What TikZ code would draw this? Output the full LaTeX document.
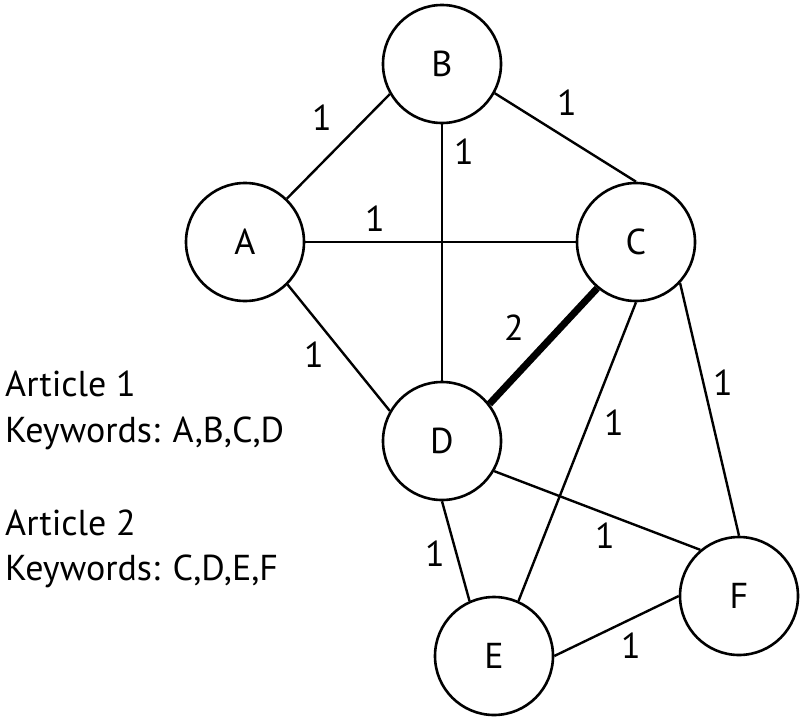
\documentclass[tikz,border=0pt]{standalone}
\usepackage{fontspec}
\setmainfont{PT Sans}
\begin{document}
\begin{tikzpicture}[x=1pt,y=-1pt,
  vert/.style={circle,draw,line width=2.6pt,minimum size=118pt,inner sep=0pt,font=\fontsize{36}{40}\selectfont},
  edge/.style={line width=2.4pt},
  heavy/.style={line width=7pt},
  wt/.style={inner sep=0pt,font=\fontsize{36}{40}\selectfont},
  txt/.style={anchor=base west,inner sep=0pt,font=\fontsize{36}{40}\selectfont}]
\useasboundingbox (0,0) rectangle (800,720);
\node[vert] (B) at (442,64) {B};
\node[vert] (A) at (245,242) {A};
\node[vert] (C) at (636,242) {C};
\node[vert] (D) at (442,441) {D};
\node[vert] (E) at (494,656) {E};
\node[vert] (F) at (739,596) {F};
\draw[edge] (A.46) -- (B.210);
\draw[edge] (B.-29) -- (C.north);
\draw[edge] (B.south) -- (D.north);
\draw[edge] (A.east) -- (C.west);
\draw[edge] (A.-45) -- (D.150);
\draw[heavy] (C.230) -- (D.38);
\draw[edge] (C.south) -- (E.66);
\draw[edge] (C.-43) -- (F.north);
\draw[edge] (D.south) -- (E.114);
\draw[edge] (D.-30) -- (F.130);
\draw[edge] (E.east) -- (F.west);
\node[wt] (wab) at (322,118) {1};
\node[wt] (wbc) at (567,103) {1};
\node[wt] (wbd) at (464,152) {1};
\node[wt] (wac) at (375,219) {1};
\node[wt] (wad) at (314,355) {1};
\node[wt] (wcd) at (514,328) {2};
\node[wt] (wcf) at (723,383) {1};
\node[wt] (wce) at (614,423) {1};
\node[wt] (wdf) at (605,536) {1};
\node[wt] (wde) at (435,554) {1};
\node[wt] (wef) at (631,646) {1};
\node[txt] (t1) at (5,396) {Article 1};
\node[txt] (t2) at (5,442) {Keywords: A,B,C,D};
\node[txt] (t3) at (5,535) {Article 2};
\node[txt] (t4) at (5,580) {Keywords: C,D,E,F};
\end{tikzpicture}
\end{document}
